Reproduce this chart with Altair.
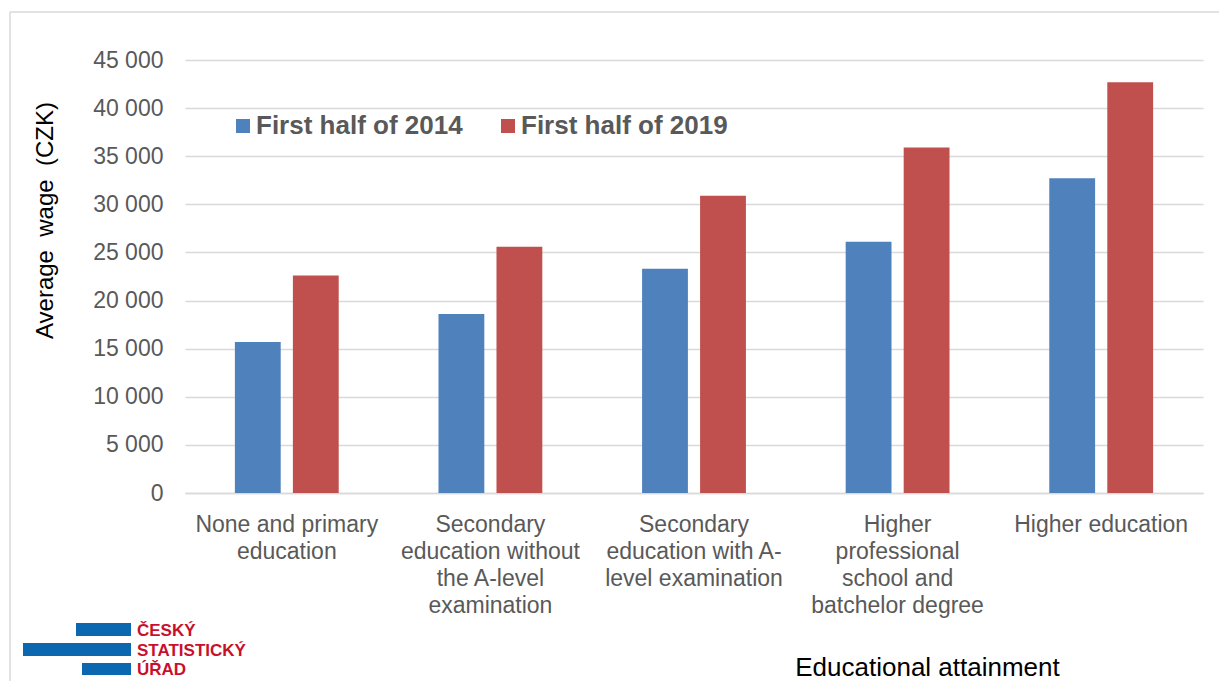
import altair as alt
import pandas as pd

categories = [
    "None and primary\neducation",
    "Secondary\neducation without\nthe A-level\nexamination",
    "Secondary\neducation with A-\nlevel examination",
    "Higher\nprofessional\nschool and\nbatchelor degree",
    "Higher education",
]
series = ["First half of 2014", "First half of 2019"]
values_2014 = [15700, 18600, 23300, 26100, 32700]
values_2019 = [22600, 25600, 30900, 35900, 42700]
y_ticks = [0, 5000, 10000, 15000, 20000, 25000, 30000, 35000, 40000, 45000]
logo_lines = ["ČESKÝ", "STATISTICKÝ", "ÚŘAD"]

rows = []
for c, v in zip(categories, values_2014):
    rows.append({"cat": c, "series": series[0], "value": v})
for c, v in zip(categories, values_2019):
    rows.append({"cat": c, "series": series[1], "value": v})
df = pd.DataFrame(rows)

FONT = "Liberation Sans"
GREY = "#595959"

bars = alt.Chart(df).mark_bar().encode(
    x=alt.X(
        "cat:N",
        sort=categories,
        scale=alt.Scale(paddingInner=0.49, paddingOuter=0.245),
        axis=alt.Axis(
            title="Educational attainment",
            titleFontSize=26,
            titleFontWeight="normal",
            titleColor="#000000",
            titleFont=FONT,
            titleX=742,
            titleY=182,
            titleAlign="center",
            titleBaseline="alphabetic",
            labelExpr="split(datum.label, '\\n')",
            labelAngle=0,
            labelFontSize=23,
            labelFont=FONT,
            labelColor=GREY,
            labelLineHeight=27,
            labelPadding=20,
            labelLimit=0,
            labelBaseline="top",
            ticks=False,
            domain=True,
            domainColor="#d9d9d9",
            domainWidth=1.5,
            grid=False,
        ),
    ),
    xOffset=alt.XOffset("series:N", sort=series, scale=alt.Scale(paddingInner=0.21, paddingOuter=0)),
    y=alt.Y(
        "value:Q",
        scale=alt.Scale(domain=[0, 45000], nice=False),
        axis=alt.Axis(
            values=y_ticks,
            title="Average\u00a0 wage\u00a0 (CZK)",
            titleFontSize=24,
            titleFontWeight="normal",
            titleColor="#000000",
            titleFont=FONT,
            titleAngle=-90,
            titleX=-140,
            titleY=160,
            titleAlign="center",
            titleBaseline="middle",
            labelExpr="replace(format(datum.value, ','), ',', ' ')",
            labelFontSize=23,
            labelFont=FONT,
            labelColor=GREY,
            labelPadding=22,
            ticks=False,
            domain=False,
            grid=True,
            gridColor="#d9d9d9",
            gridWidth=1.5,
        ),
    ),
    color=alt.Color(
        "series:N",
        sort=series,
        scale=alt.Scale(domain=series, range=["#4f81bd", "#c0504d"]),
        legend=alt.Legend(
            title=None,
            orient="none",
            legendX=45,
            legendY=53,
            direction="horizontal",
            symbolType="square",
            symbolSize=196,
            symbolStrokeWidth=0,
            labelFontSize=26,
            labelFontWeight="bold",
            labelFont=FONT,
            labelColor=GREY,
            labelOffset=0,
            columnPadding=32,
            padding=0,
            labelLimit=0,
        ),
    ),
)

one = pd.DataFrame({"k": [0]})

logo_blue = "#0a67b0"
logo_red = "#c8102e"
r1 = alt.Chart(one).mark_rect(color=logo_blue).encode(
    x=alt.value(-109), x2=alt.value(-54), y=alt.value(563), y2=alt.value(576))
r2 = alt.Chart(one).mark_rect(color=logo_blue).encode(
    x=alt.value(-162), x2=alt.value(-54), y=alt.value(583), y2=alt.value(596))
r3 = alt.Chart(one).mark_rect(color=logo_blue).encode(
    x=alt.value(-103), x2=alt.value(-54), y=alt.value(603), y2=alt.value(615))
logo_text = alt.Chart(one).mark_text(
    text=logo_lines,
    font=FONT,
    fontSize=17,
    fontWeight="bold",
    color=logo_red,
    align="left",
    baseline="alphabetic",
    lineHeight=19.5,
).encode(x=alt.value(-48), y=alt.value(576))

border_left = alt.Chart(one).mark_rule(color="#d9d9d9", strokeWidth=1.5).encode(
    x=alt.value(-175), y=alt.value(-48), y2=alt.value(640))
border_top = alt.Chart(one).mark_rule(color="#d9d9d9", strokeWidth=1.5).encode(
    x=alt.value(-175), x2=alt.value(1060), y=alt.value(-48))

chart = alt.layer(border_left, border_top, bars, r1, r2, r3, logo_text).properties(
    width=1018,
    height=433,
    autosize=alt.AutoSizeParams(type="none"),
    padding={"left": 177, "top": 52, "right": 16, "bottom": 188},
    background="white",
).configure_view(stroke=None)

chart.save("out.html", embed_options={"renderer": "svg", "actions": False})
